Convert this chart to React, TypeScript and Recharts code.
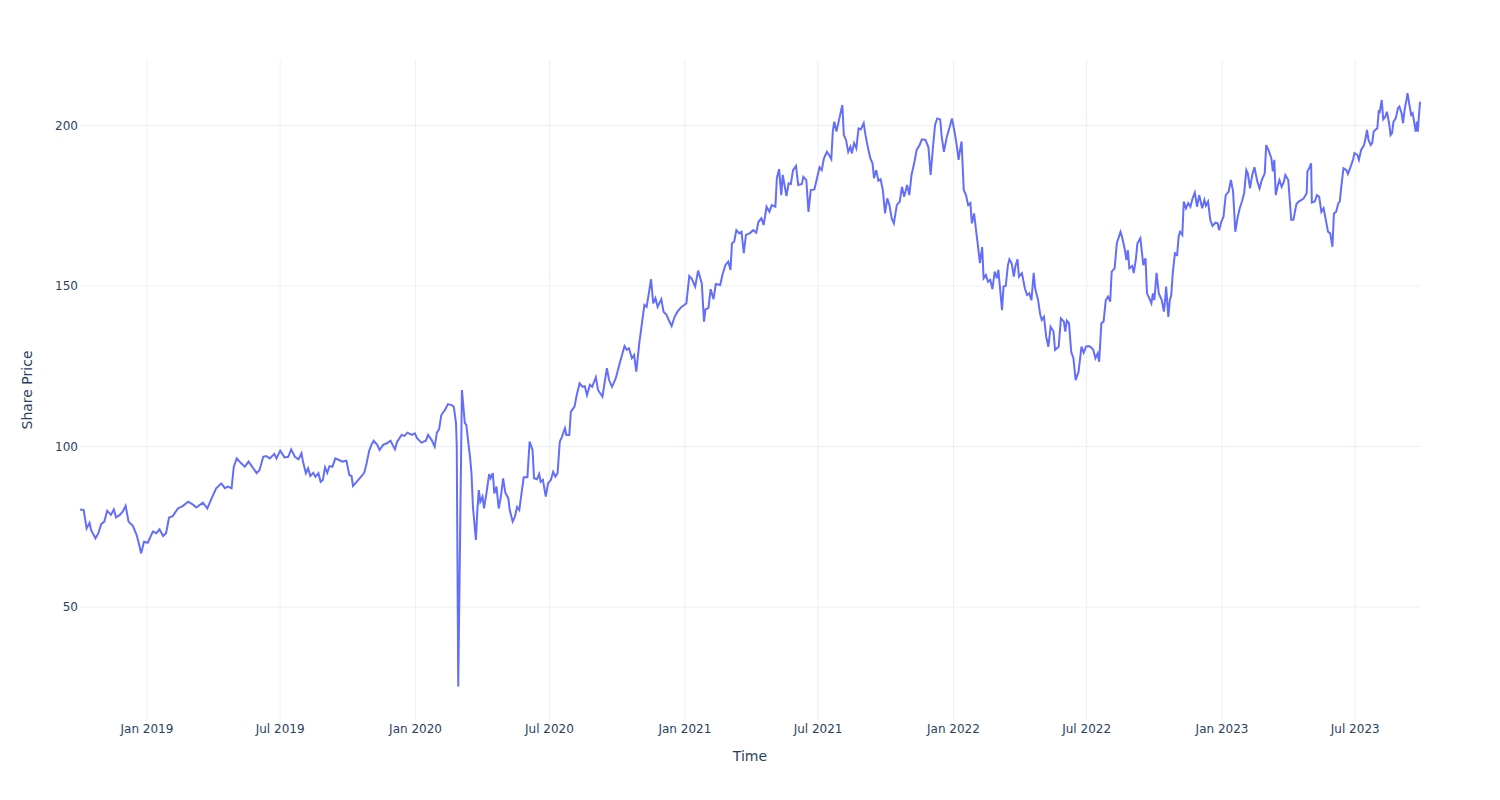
import React from 'react';
import { LineChart, Line, XAxis, YAxis, ReferenceLine, Label } from 'recharts';

// Days since 2019-01-01 for each observation
const dayOffsets: number[] = [
  -91, -86, -82, -78, -76, -70, -66, -62, -58, -54, -49, -45, -42, -37, -33, -29, -25, -19, -14, -11, -8, -4,
  1, 8, 13, 17, 22, 26, 30, 35, 42, 49, 56, 63, 67, 76, 82, 88, 94, 101, 106, 110, 115, 118, 122, 127, 133,
  138, 143, 149, 153, 158, 162, 167, 173, 176, 181, 187, 192, 196, 201, 206, 210, 212, 216, 219, 222, 226,
  229, 233, 236, 239, 242, 245, 248, 252, 256, 261, 266, 271, 275, 278, 280, 285, 289, 295, 298, 302, 305,
  308, 313, 316, 321, 326, 331, 337, 340, 346, 350, 354, 360, 364, 367, 373, 379, 382, 387, 391, 394, 397,
  400, 405, 409, 414, 417, 420, 421, 423, 428, 432, 434, 436, 439, 441, 443, 447, 449, 451,
  453, 456, 458, 461, 465, 467, 470, 472, 475, 478, 481, 484, 487, 491, 493, 497, 500, 503, 506, 509, 512,
  517, 520, 524, 526, 530, 533, 535, 538, 542, 545, 549, 552, 555, 558, 561, 564, 568, 570, 574, 576, 581,
  584, 588, 592, 595, 598, 602, 605, 610, 613, 619, 625, 628, 632, 637, 643, 649, 652, 655, 659, 662, 665,
  669, 672, 676, 679, 682, 685, 688, 691, 694, 699, 702, 706, 709, 713, 717, 721, 726, 730, 733, 737, 740,
  745, 749, 754, 757, 759, 763, 766, 770, 773, 779, 782, 786, 790, 793, 795, 798, 801, 805, 808, 811, 814,
  819, 824, 828, 831, 835, 838, 840, 842, 846, 849, 854, 856, 859, 862, 864, 869, 872, 875, 878, 882, 885,
  890, 892, 896, 899, 902, 907, 910, 914, 917, 920, 924, 927, 930, 932, 934, 937, 940, 942, 945, 947, 950,
  953, 956, 958, 961, 964, 967, 970, 974, 976, 979, 983, 986, 988, 991, 994, 997, 1000, 1003, 1006, 1009,
  1012, 1015, 1019, 1023, 1026, 1029, 1033, 1036, 1039, 1043, 1046, 1050, 1053, 1058, 1062, 1065, 1068,
  1071, 1074, 1078, 1080, 1083, 1087, 1091, 1094, 1097, 1100, 1103, 1105, 1107, 1110, 1113, 1116, 1119,
  1121, 1124, 1128, 1132, 1135, 1137, 1140, 1143, 1146, 1149, 1152, 1155, 1157, 1162, 1164, 1167, 1170,
  1172, 1175, 1178, 1180, 1183, 1185, 1189, 1193, 1196, 1199, 1202, 1205, 1207, 1211, 1214, 1216, 1219,
  1222, 1225, 1228, 1232, 1234, 1239, 1242, 1246, 1248, 1250, 1253, 1256, 1259, 1262, 1266, 1270, 1273,
  1276, 1280, 1283, 1286, 1289, 1292, 1294, 1297, 1300, 1303, 1306, 1309, 1311, 1315, 1318, 1323, 1325,
  1329, 1331, 1333, 1335, 1339, 1341, 1344, 1346, 1350, 1352, 1354, 1357, 1359, 1362, 1365, 1367, 1369,
  1372, 1375, 1377, 1379, 1382, 1384, 1385, 1388, 1390, 1392, 1394, 1397, 1400, 1402, 1404, 1407, 1409,
  1412, 1415, 1418, 1421, 1424, 1427, 1430, 1434, 1437, 1439, 1442, 1445, 1448, 1452, 1455, 1457, 1460,
  1463, 1466, 1470, 1473, 1476, 1479, 1482, 1485, 1488, 1491, 1494, 1496, 1499, 1502, 1505, 1509, 1512,
  1515, 1519, 1521, 1524, 1528, 1530, 1532, 1534, 1537, 1539, 1542, 1545, 1547, 1551, 1553, 1555, 1558,
  1562, 1565, 1569, 1572, 1576, 1577, 1580, 1582, 1583, 1587, 1590, 1593, 1596, 1599, 1602, 1605, 1608,
  1611, 1613, 1616, 1619, 1621, 1623, 1626, 1630, 1632, 1635, 1639, 1641, 1645, 1647, 1650, 1654, 1656,
  1658, 1660, 1663, 1665, 1667, 1669, 1672, 1674, 1675, 1678, 1680, 1683, 1685, 1688, 1690, 1692, 1694,
  1697, 1700, 1702, 1705, 1707, 1709, 1712, 1713, 1716, 1718, 1720, 1722, 1724, 1726, 1727, 1730,
];

const sharePrice: number[] = [
  80.4, 80.2, 74.5, 76.2, 74, 71.4, 73, 75.9, 76.6, 80, 78.7, 80.4, 77.9, 78.7, 79.7, 81.5, 76.6, 75.2, 72.4, 69.8, 66.7, 70.3,
  70, 73.5, 73, 74.2, 72.1, 73, 77.9, 78.3, 80.7, 81.5, 82.8, 81.8, 81, 82.5, 80.7, 83.9, 87, 88.5, 87, 87.5, 87, 93.7, 96.3, 95, 93.7,
  95.3, 93.7, 91.7, 92.7, 96.8, 97, 96.3, 97.7, 96.3, 98.7, 96.6, 96.8, 99.1, 96.8, 96, 97.9, 95.3, 91.7, 93.2, 90.8, 91.8,
  90.6, 91.7, 89, 89.6, 93.5, 91.8, 93.9, 93.7, 96.3, 95.8, 95.3, 95.6, 91.1, 90.8, 87.7, 89, 90.1, 91.7, 94.2, 98.7, 100.5,
  101.8, 100.5, 98.9, 100.5, 101, 101.8, 99.1, 101.5, 103.6, 103.3, 104.3, 103.6, 104.1, 102.6, 101.2, 101.8, 103.6, 102, 99.9, 104.3, 105.4,
  109.8, 111.4, 113.2, 112.9, 112.4, 107.2, 99.9, 25.2, 117.6, 107.3, 106.7, 102.6, 96.8, 91.7, 81.2, 70.9, 80.2, 86.4,
  82.8, 84.4, 80.7, 84.9, 91.4, 90.1, 91.7, 85.4, 87.5, 80.7, 84.4, 90.1, 85.6, 83.9, 80.2, 76.6, 78.1, 81.2, 80.2, 85.4, 90.4,
  90.4, 101.5, 98.9, 90.1, 89.8, 91.4, 89, 89.6, 84.4, 88.5, 89.6, 92.1, 90.6, 91.7, 101.5, 103, 105.7, 103.6, 103.6, 110.8, 112.4,
  116, 119.7, 118.6, 118.8, 116, 119.2, 118.6, 121.6, 117.6, 115.5, 124.4, 120.7, 118.6, 121.2, 126.4, 131.3, 130.1, 130.6, 127.5, 128.5, 123.3,
  132.1, 137.3, 144.1, 143.5, 147.7, 152.1, 144.6, 146.2, 143.5, 145.9, 142, 141, 139.4, 137.5, 140.4, 142, 143.4, 144.1, 144.6, 153.1, 152.4,
  149.8, 154.8, 150.8, 138.9, 142.7, 143.1, 149, 145.9, 150.6, 150.3, 153.4, 156.5, 157.6, 155, 163.3, 163.8, 167.4, 166.4, 166.9, 160.2, 165.9,
  166.4, 167.4, 166.6, 170, 171.1, 169, 171.8, 174.7, 173.1, 175.2, 174.7, 183.6, 186.4, 178.3, 184.6, 178, 182, 181.8, 186.1, 187.4, 181.5,
  181.8, 184, 183, 173.1, 179.9, 180.1, 183, 187, 186.1, 189.8, 191.8, 190.8, 189.5, 198.1, 201.2, 198.1, 201.2, 203.3, 206.4, 197, 195.5,
  191.8, 193.4, 191.3, 194.5, 192.9, 199.1, 198.8, 200.7, 197.6, 193.9, 189.8, 188.2, 183.6, 186.1, 182.8, 183.2, 179.9, 172.6, 177.3, 175.2,
  171.1, 169.5, 175.2, 176.3, 180.9, 177.8, 181.5, 178.3, 184.6, 188.7, 192.4, 193.9, 195.7, 195.5, 193.2, 184.6, 192.9,
  200.2, 202.2, 201.9, 196.5, 191.8, 196.5, 199.6, 202.2, 198.6, 194.5, 189.3, 192.4, 195, 179.9, 178.3, 175.2, 175.8,
  169.5, 172.6, 164.9, 157.1, 162.1, 152.4, 153.4, 151.3, 151.9, 149, 154.5, 152.4, 155, 142.5, 149.8, 150, 156.5,
  158.3, 157.1, 152.9, 156, 158.3, 152.9, 154, 149.3, 147.2, 147.7, 145.6, 154.1, 149.3, 145.6, 141, 139.4, 140.4,
  134.2, 131.1, 137.3, 135.8, 130.1, 131.1, 139.9, 138.9, 135.8, 139.2, 138.4, 129.5, 127.5, 120.7, 123.3, 131.1, 129.2,
  131.1, 131.3, 130.9, 130.1, 127.5, 129, 126.4, 138.4, 138.9, 145.6, 146.7, 145.1, 154.5, 155.5, 163.3, 166.9, 165.4,
  161.2, 158.1, 161.2, 155.5, 156.2, 154, 158.6, 163.3, 164.9, 160.7, 156.5, 158.6, 147.7, 146.2, 144.6, 147.7, 145.6,
  154.1, 147.7, 146.7, 145.6, 142, 146.7, 149.8, 140.4, 145.6, 147.2, 154, 160.2, 159.7, 165.4, 166.9, 165.9, 176.3,
  174.2, 175.8, 174.7, 177.3, 179.1, 174.7, 178.3, 174.2, 176.8, 175, 176.3, 170.6, 168.7, 169.7, 169.5, 167.4, 170,
  171.6, 178.3, 179.4, 183, 179.4, 166.9, 171.1, 174.2, 176.3, 178.9, 186.1, 185.1, 180.4, 184.6, 187, 182.5, 180.4,
  183, 185.1, 193.9, 192.4, 189.8, 185.7, 189.3, 178.3, 181.5, 183, 180.9, 182.5, 184.6, 183, 176.8, 170.6, 170.6,
  175.5, 176.3, 176.8, 177.3, 178.9, 185.7, 187, 188.2, 176, 176.3, 178.3, 177.8, 173.1, 174.2, 170.6, 166.9, 166.4,
  162.2, 172.6, 173.1, 175.8, 176.3, 180.9, 186.7, 186.1, 184.9, 186.7, 189.3, 191.4, 190.8, 189.3, 192.4, 193.9, 196,
  198.6, 195.5, 193.9, 194.5, 198.1, 198.6, 199.1, 204.8, 203.8, 208, 201.9, 202.8, 204.3, 200.7, 197, 197.6, 201.2,
  202.2, 205.3, 205.9, 203.8, 200.7, 204.8, 208.5, 210.1, 205.9, 203.3, 203.8, 201.2, 198.1, 201.2, 198.1, 207.4,
];

const baseDate = '2019-01-01';
const tickDates: string[] = [
  '2019-01-01', '2019-07-01', '2020-01-01', '2020-07-01', '2021-01-01',
  '2021-07-01', '2022-01-01', '2022-07-01', '2023-01-01', '2023-07-01',
];
const tickLabels: string[] = [
  'Jan 2019', 'Jul 2019', 'Jan 2020', 'Jul 2020', 'Jan 2021',
  'Jul 2021', 'Jan 2022', 'Jul 2022', 'Jan 2023', 'Jul 2023',
];
const yTicks: number[] = [50, 100, 150, 200];

const DAY = 86400000;
const BASE = Date.parse(baseDate);
const tickValues = tickDates.map((s) => Date.parse(s));

const data = dayOffsets.map((d, i) => ({ t: BASE + d * DAY, price: sharePrice[i] }));

const FONT = '"DejaVu Sans", Verdana, sans-serif';
const TEXT = '#2a3f5f';
const GRID = '#ebf0f8';

const fmtX = (v: number) => {
  const idx = tickValues.indexOf(v);
  return idx >= 0 ? tickLabels[idx] : '';
};

const XTitle = (props: any) => {
  const vb = props.viewBox || {};
  return (
    <text
      x={vb.x + vb.width / 2}
      y={vb.y + 36}
      textAnchor="middle"
      dominantBaseline="central"
      fill={TEXT}
      fontSize={14}
      fontFamily={FONT}
    >
      Time
    </text>
  );
};

const YTitle = (props: any) => {
  const vb = props.viewBox || {};
  const x = vb.x + 27;
  const y = vb.y + vb.height / 2;
  return (
    <text
      x={x}
      y={y}
      textAnchor="middle"
      dominantBaseline="central"
      fill={TEXT}
      fontSize={14}
      fontFamily={FONT}
      transform={`rotate(-90, ${x}, ${y})`}
    >
      Share Price
    </text>
  );
};

export default function App() {
  return (
    <div style={{ position: 'absolute', left: 0, top: 0, width: 1500, height: 800, background: '#fff' }}>
      <LineChart
        width={1500}
        height={800}
        data={data}
        margin={{ top: 60, right: 80, bottom: 0, left: 0 }}
      >
        <XAxis
          dataKey="t"
          type="number"
          scale="linear"
          domain={['dataMin', 'dataMax']}
          ticks={tickValues}
          tickFormatter={fmtX}
          height={80}
          axisLine={false}
          tickLine={false}
          tickSize={0}
          tickMargin={4}
          interval={0}
          tick={{ fill: TEXT, fontSize: 12, fontFamily: FONT }}
        >
          <Label content={XTitle} />
        </XAxis>
        <YAxis
          type="number"
          domain={[14.8, 220.4]}
          ticks={yTicks}
          allowDataOverflow
          width={80}
          axisLine={false}
          tickLine={false}
          tickSize={0}
          tickMargin={2}
          interval={0}
          tick={{ fill: TEXT, fontSize: 12, fontFamily: FONT }}
        >
          <Label content={YTitle} />
        </YAxis>
        {tickValues.map((v) => (
          <ReferenceLine key={`vx${v}`} x={v} stroke={GRID} strokeWidth={1} />
        ))}
        {yTicks.map((v) => (
          <ReferenceLine key={`hy${v}`} y={v} stroke={GRID} strokeWidth={1} />
        ))}
        <Line
          type="linear"
          dataKey="price"
          stroke="#636efa"
          strokeWidth={2}
          dot={false}
          activeDot={false}
          isAnimationActive={false}
        />
      </LineChart>
    </div>
  );
}
